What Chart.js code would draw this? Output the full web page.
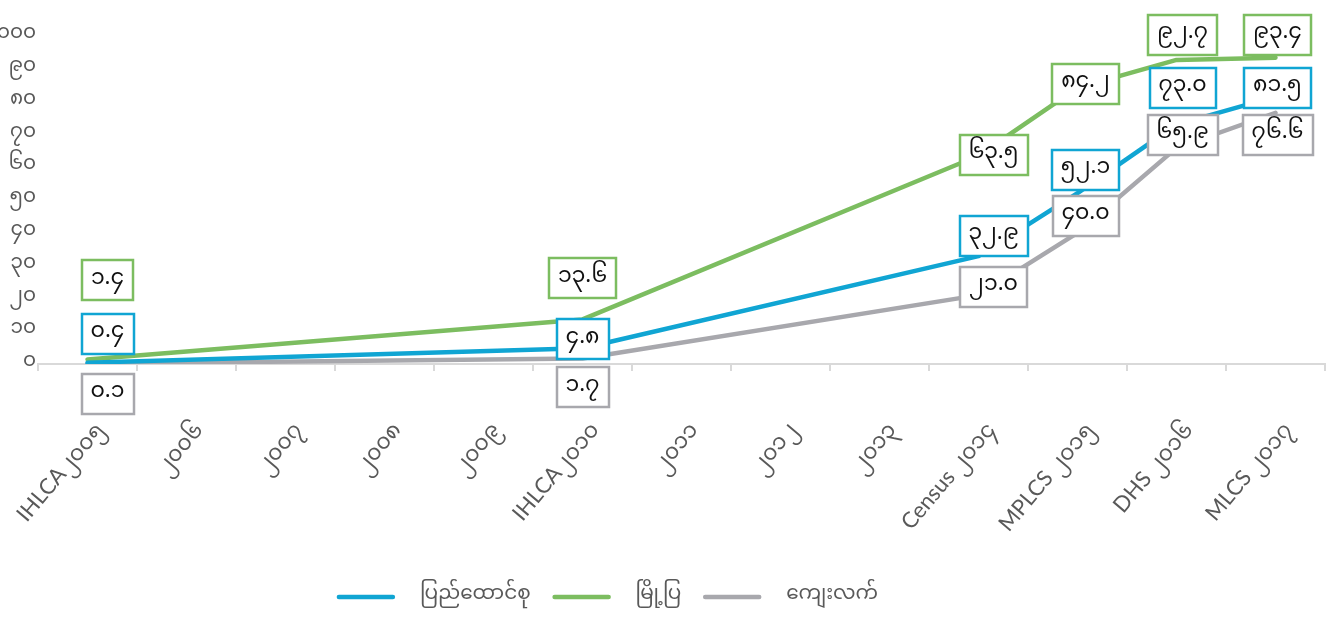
<!DOCTYPE html>
<html><head><meta charset="utf-8">
<script src="https://cdn.jsdelivr.net/npm/chart.js@4.4.1/dist/chart.umd.min.js"></script>
<style>html,body{margin:0;padding:0;background:#fff;}#wrap{width:1327px;height:629px;position:relative;}</style>
</head><body><div id="wrap"><canvas id="c"></canvas></div>
<script>
const categories = ['IHLCA၂၀၀၅','၂၀၀၆','၂၀၀၇','၂၀၀၈','၂၀၀၉','IHLCA၂၀၁၀','၂၀၁၁','၂၀၁၂','၂၀၁၃','Census ၂၀၁၄','MPLCS ၂၀၁၅','DHS ၂၀၁၆','MLCS ၂၀၁၇'];
const seriesNames = ['ပြည်ထောင်စု','မြို့ပြ','ကျေးလက်'];
const unionValues = [0.4,null,null,null,null,4.8,null,null,null,32.9,52.1,73.0,81.5];
const urbanValues = [1.4,null,null,null,null,13.6,null,null,null,63.5,84.2,92.7,93.4];
const ruralValues = [0.1,null,null,null,null,1.7,null,null,null,21.0,40.0,65.9,76.6];
const yMin = 0, yMax = 100, yStep = 10;

// label box placement relative to its point (pixels) — layout styling only
const unionLabelShift = [[20,-29],null,null,null,null,[0,-9],null,null,null,[15,-20],[8,-23],[6,-37],[2,-9]];
const urbanLabelShift = [[20,-79],null,null,null,null,[0,-41],null,null,null,[15,-1],[8,-4],[6,-25],[2,-23]];
const ruralLabelShift = [[20,30],null,null,null,null,[0,29],null,null,null,[15,-8],[8,-17],[6,-13],[2,22]];

const COLORS = {union:'#10a5d3', urban:'#7cbd60', rural:'#a8a8ad'};
const FONT = "'Noto Sans Myanmar','Padauk','Myanmar Text','Lato','Noto Sans',sans-serif";
const AXIS_FONT = "'Lato','Noto Sans Myanmar','Padauk','Noto Sans',sans-serif";
const MY = '၀၁၂၃၄၅၆၇၈၉';
function toMy(s){ return String(s).replace(/[0-9]/g, d => MY[+d]); }

const labelBoxes = {
  id:'labelBoxes',
  afterDatasetsDraw(chart){
    const ctx = chart.ctx;
    ctx.save();
    ctx.font = '22px ' + FONT;
    ctx.textAlign = 'center';
    ctx.textBaseline = 'middle';
    [2,0,1].forEach(di => {
      const ds = chart.data.datasets[di];
      const meta = chart.getDatasetMeta(di);
      meta.data.forEach((pt, i) => {
        const v = ds.data[i];
        if (v === null || v === undefined) return;
        const sh = ds.labelShift[i] || [0,0];
        const txt = toMy(v.toFixed(1));
        const tw = ctx.measureText(txt).width;
        const w = Math.round(tw + 18), h = 40;
        const cx = pt.x + sh[0], cy = pt.y + sh[1];
        const x0 = Math.round(cx - w/2), y0 = Math.round(cy - h/2);
        ctx.fillStyle = '#fff';
        ctx.fillRect(x0, y0, w, h);
        ctx.strokeStyle = ds.borderColor;
        ctx.lineWidth = 2.5;
        ctx.strokeRect(x0, y0, w, h);
        ctx.fillStyle = '#111';
        ctx.fillText(txt, cx, cy + 1);
      });
    });
    ctx.restore();
  }
};

const customLegend = {
  id:'customLegend',
  afterDraw(chart){
    const ctx = chart.ctx;
    ctx.save();
    ctx.font = '20px ' + FONT;
    const lineW = 58, gap = 25, itemGap = 22;
    const items = chart.data.datasets.map(ds => ({label:ds.label, color:ds.borderColor, tw:ctx.measureText(ds.label).width}));
    const total = items.reduce((s,it)=>s+lineW+gap+it.tw,0) + itemGap*(items.length-1);
    let x = chart.width/2 - 56 - total/2;
    const y = chart.height - 32;
    items.forEach(it => {
      ctx.strokeStyle = it.color; ctx.lineWidth = 4.5; ctx.lineCap = 'round';
      ctx.beginPath(); ctx.moveTo(x+2, y); ctx.lineTo(x+lineW-2, y); ctx.stroke();
      ctx.fillStyle = '#595959'; ctx.textAlign = 'left'; ctx.textBaseline = 'middle';
      ctx.fillText(it.label, x + lineW + gap, y);
      x += lineW + gap + it.tw + itemGap;
    });
    ctx.restore();
  }
};

function mkDs(label, data, color, shift){
  return {label, data, borderColor:color, backgroundColor:color, borderWidth:4.5,
    pointRadius:0, pointHoverRadius:0, spanGaps:true, tension:0, labelShift:shift,
    borderCapStyle:'round', borderJoinStyle:'round'};
}

new Chart(document.getElementById('c'), {
  type:'line',
  data:{
    labels: categories,
    datasets:[
      mkDs(seriesNames[0], unionValues, COLORS.union, unionLabelShift),
      mkDs(seriesNames[1], urbanValues, COLORS.urban, urbanLabelShift),
      mkDs(seriesNames[2], ruralValues, COLORS.rural, ruralLabelShift)
    ]
  },
  options:{
    responsive:true, maintainAspectRatio:false, animation:false,
    layout:{padding:{top:36, right:2, bottom:65, left:0}},
    plugins:{ legend:{display:false}, tooltip:{enabled:false} },
    scales:{
      x:{
        offset:true,
        grid:{offset:true, drawOnChartArea:false, drawTicks:true, tickLength:7, color:'#d9d9d9', lineWidth:2},
        border:{display:true, color:'#d9d9d9', width:2},
        ticks:{minRotation:50, maxRotation:50, autoSkip:false, padding:46, labelOffset:12,
          color:'#595959', font:{size:22, family:AXIS_FONT}},
        afterFit(s){ s.height = 200; s.paddingLeft = 0; s.paddingRight = 0; }
      },
      y:{
        min:yMin, max:yMax,
        grid:{display:false, drawTicks:false},
        border:{display:false},
        ticks:{stepSize:yStep, padding:2, color:'#595959', font:{size:20, family:FONT},
          callback:(v)=>toMy(v)},
        afterFit(s){ s.width = 38; s.paddingTop = 0; s.paddingBottom = 0; }
      }
    }
  },
  plugins:[labelBoxes, customLegend]
});
</script>
</body></html>
